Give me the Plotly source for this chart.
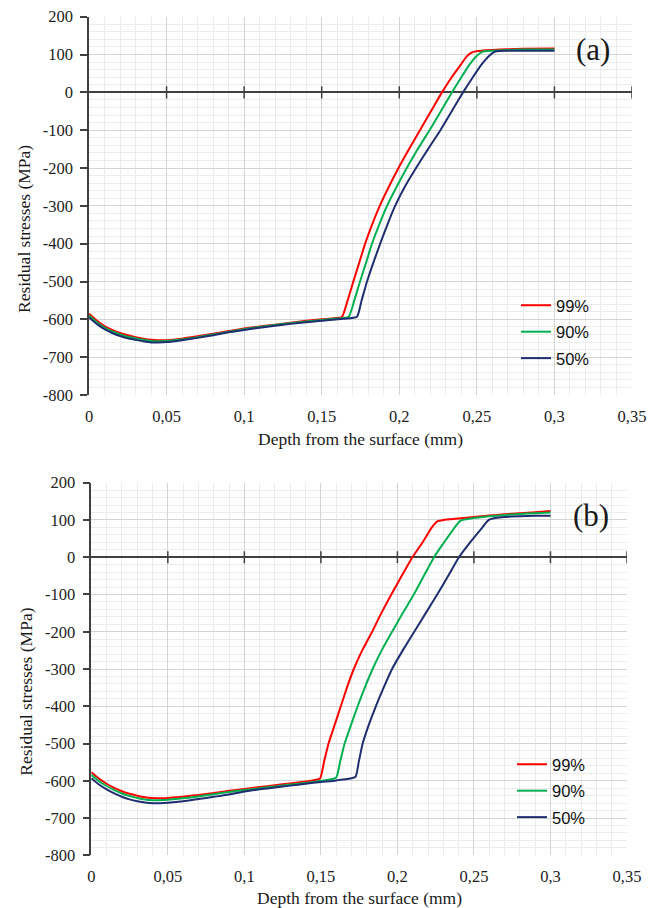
import plotly.graph_objects as go

# ---- residual stress profiles vs depth, panel (a) ----
depth_a_99 = [0, 0.005, 0.01, 0.015, 0.02, 0.025, 0.03, 0.035, 0.04, 0.045, 0.05, 0.06, 0.07, 0.08,
              0.09, 0.1, 0.11, 0.12, 0.13, 0.14, 0.15, 0.158, 0.163, 0.1667, 0.1704, 0.1742, 0.178,
              0.1824, 0.1874, 0.1932, 0.1995, 0.2063, 0.2133, 0.2204, 0.2275, 0.2338, 0.2394,
              0.2435, 0.2465, 0.25, 0.26, 0.27, 0.28, 0.3]
stress_a_99 = [-585, -603, -618, -628, -636, -642, -647, -651, -654, -655, -655, -651, -645, -638,
               -631, -624, -619, -614, -609, -604, -600, -597, -594, -550, -500, -450, -400,
               -350, -300, -250, -200, -150, -100, -50, 0, 40, 72,
               95, 105, 109, 112, 114, 115, 116]

depth_a_90 = [0, 0.005, 0.01, 0.015, 0.02, 0.025, 0.03, 0.035, 0.04, 0.045, 0.05, 0.06, 0.07, 0.08,
              0.09, 0.1, 0.11, 0.12, 0.13, 0.14, 0.15, 0.16, 0.1673, 0.171, 0.1747, 0.1786, 0.1824,
              0.187, 0.1921, 0.1982, 0.2048, 0.2119, 0.2195, 0.2268, 0.234, 0.24, 0.245,
              0.2495, 0.2534, 0.26, 0.27, 0.28, 0.3]
stress_a_90 = [-590, -608, -622, -632, -640, -646, -650, -654, -657, -658, -657, -653, -647, -640,
               -633, -626, -620, -615, -610, -606, -602, -598, -594, -550, -500, -450, -400,
               -350, -300, -250, -200, -150, -100, -50, 0, 40, 72,
               95, 107, 110, 112, 113, 113]

depth_a_50 = [0, 0.005, 0.01, 0.015, 0.02, 0.025, 0.03, 0.035, 0.04, 0.045, 0.05, 0.06, 0.07, 0.08,
              0.09, 0.1, 0.11, 0.12, 0.13, 0.14, 0.15, 0.16, 0.1727, 0.1757, 0.1792, 0.1833, 0.1877,
              0.1923, 0.1973, 0.2035, 0.2108, 0.2185, 0.2265, 0.2338, 0.2411, 0.2474, 0.2527,
              0.2575, 0.262, 0.27, 0.3]
stress_a_50 = [-595, -612, -626, -636, -644, -650, -654, -658, -661, -661, -660, -655, -649, -642,
               -634, -628, -622, -617, -612, -608, -604, -600, -593, -550, -500, -450, -400,
               -350, -300, -250, -200, -150, -100, -50, 0, 40, 72,
               95, 108, 110, 110]

# ---- panel (b) ----
depth_b_99 = [0, 0.005, 0.01, 0.015, 0.02, 0.025, 0.03, 0.035, 0.04, 0.045, 0.05, 0.06, 0.07, 0.08,
              0.09, 0.1, 0.11, 0.12, 0.13, 0.14, 0.1494, 0.152, 0.155, 0.159, 0.163, 0.167, 0.1715,
              0.177, 0.1835, 0.1895, 0.196, 0.2028, 0.2098, 0.2165, 0.2225, 0.2261,
              0.23, 0.24, 0.25, 0.26, 0.27, 0.28, 0.29, 0.3]
stress_b_99 = [-577, -594, -608, -619, -628, -635, -640, -644, -646, -647, -646, -643, -638, -633,
               -627, -622, -617, -612, -607, -602, -594, -550, -500, -450, -400, -350, -300,
               -250, -200, -150, -100, -50, 0, 40, 80, 96,
               100, 104, 108, 112, 115, 118, 121, 124]

depth_b_90 = [0, 0.005, 0.01, 0.015, 0.02, 0.025, 0.03, 0.035, 0.04, 0.045, 0.05, 0.06, 0.07, 0.08,
              0.09, 0.1, 0.11, 0.12, 0.13, 0.14, 0.15, 0.1599, 0.1625, 0.1655, 0.1697, 0.174, 0.1787,
              0.1838, 0.1897, 0.1965, 0.2035, 0.2107, 0.2173, 0.2239, 0.2305, 0.2365, 0.2413,
              0.25, 0.26, 0.27, 0.28, 0.29, 0.3]
stress_b_90 = [-584, -601, -614, -625, -634, -641, -646, -650, -652, -652, -651, -647, -642, -636,
               -630, -625, -620, -615, -610, -606, -600, -592, -550, -500, -450, -400, -350,
               -300, -250, -200, -150, -100, -50, 0, 40, 75, 98,
               105, 110, 113, 116, 118, 120]

depth_b_50 = [0, 0.005, 0.01, 0.015, 0.02, 0.025, 0.03, 0.035, 0.04, 0.045, 0.05, 0.06, 0.07, 0.08,
              0.09, 0.1, 0.11, 0.12, 0.13, 0.14, 0.15, 0.16, 0.1725, 0.1747, 0.1773, 0.1813, 0.1859,
              0.191, 0.1965, 0.2035, 0.211, 0.2185, 0.226, 0.2332, 0.2402, 0.2475, 0.2545, 0.2597,
              0.265, 0.27, 0.28, 0.29, 0.3]
stress_b_50 = [-593, -610, -623, -634, -643, -650, -655, -658, -660, -660, -659, -655, -649, -643,
               -637, -629, -623, -618, -613, -608, -603, -599, -590, -550, -500, -450, -400,
               -350, -300, -250, -200, -150, -100, -50, 0, 40, 75, 100,
               106, 108, 110, 111, 111]

series_names = ["99%", "90%", "50%"]
series_colors = ["#ff0000", "#00b050", "#1f2e6e"]

# ---- axis ticks ----
x_tick_vals = [0, 0.05, 0.1, 0.15, 0.2, 0.25, 0.3, 0.35]
x_tick_text = ["0", "0,05", "0,1", "0,15", "0,2", "0,25", "0,3", "0,35"]
y_tick_vals = [-800, -700, -600, -500, -400, -300, -200, -100, 0, 100, 200]
y_tick_text = ["-800", "-700", "-600", "-500", "-400", "-300", "-200", "-100", "0", "100", "200"]

panel_labels = ["(a)", "(b)"]
x_title = "Depth from the surface (mm)"
y_title = "Residual stresses (MPa)"

W, H = 660, 908
SERIF = "Liberation Serif"
SANS = "Liberation Sans"
AXIS_COLOR = "#404040"

fig = go.Figure()

panels = [
    ((depth_a_99, depth_a_90, depth_a_50), (stress_a_99, stress_a_90, stress_a_50), "x", "y", "legend", "a"),
    ((depth_b_99, depth_b_90, depth_b_50), (stress_b_99, stress_b_90, stress_b_50), "x2", "y2", "legend2", "b"),
]
for xs_set, ys_set, xa, ya, lg, tag in panels:
    for xs, ys, name, col in zip(xs_set, ys_set, series_names, series_colors):
        fig.add_trace(go.Scatter(
            x=xs, y=ys, name=name, mode="lines",
            line=dict(color=col, width=2, shape="spline", smoothing=0.5),
            xaxis=xa, yaxis=ya, legend=lg, legendgroup=tag + name,
        ))


def px_x(p):
    return p / W


def px_y(p):
    return 1 - p / H


def xaxis_style(domain, anchor):
    return dict(
        domain=domain, anchor=anchor, range=[0, 0.35], automargin=False,
        tickmode="array", tickvals=x_tick_vals, ticktext=x_tick_text,
        showline=False, zeroline=False, ticks="",
        showgrid=True, gridcolor="#d4d4d4", gridwidth=1.3,
        minor=dict(dtick=0.01, showgrid=True, gridcolor="#ececec", gridwidth=1),
        tickfont=dict(family=SERIF, size=16.5, color="#222"),
        ticklabelstandoff=9,
    )


def yaxis_style(domain, anchor):
    return dict(
        domain=domain, anchor=anchor, range=[-800, 200], automargin=False,
        tickmode="array", tickvals=y_tick_vals, ticktext=y_tick_text,
        showline=True, linecolor=AXIS_COLOR, linewidth=1.5,
        ticks="outside", ticklen=7, tickcolor=AXIS_COLOR, tickwidth=1.5,
        zeroline=True, zerolinecolor=AXIS_COLOR, zerolinewidth=1.5,
        showgrid=True, gridcolor="#d4d4d4", gridwidth=1.3,
        minor=dict(dtick=20, showgrid=True, gridcolor="#ececec", gridwidth=1),
        tickfont=dict(family=SERIF, size=16.5, color="#222"),
        ticklabelstandoff=4,
    )


legend_font = dict(family=SANS, size=16.5, color="#111")
fig.update_layout(
    width=W, height=H,
    margin=dict(l=0, r=0, t=0, b=0),
    paper_bgcolor="white", plot_bgcolor="white",
    xaxis=xaxis_style([px_x(89), px_x(632)], "y"),
    yaxis=yaxis_style([px_y(395), px_y(16.7)], "x"),
    xaxis2=xaxis_style([px_x(91.3), px_x(627)], "y2"),
    yaxis2=yaxis_style([px_y(855.3), px_y(482.7)], "x2"),
    legend=dict(x=px_x(516), y=px_y(288), xanchor="left", yanchor="top",
                bgcolor="rgba(0,0,0,0)", font=legend_font, tracegroupgap=2),
    legend2=dict(x=px_x(512), y=px_y(747), xanchor="left", yanchor="top",
                 bgcolor="rgba(0,0,0,0)", font=legend_font, tracegroupgap=2),
    showlegend=True,
)

# cross-style tick marks along the zero line
shapes = []
for xa, ya in (("x", "y"), ("x2", "y2")):
    for xv in x_tick_vals[1:]:
        shapes.append(dict(type="line", xref=xa, yref=ya, x0=xv, x1=xv, y0=-16, y1=16,
                           line=dict(color=AXIS_COLOR, width=1.5), layer="above"))
fig.update_layout(shapes=shapes)


def label(text, xp, yp, size, angle=0):
    return dict(text=text, x=px_x(xp), y=px_y(yp), xref="paper", yref="paper",
                xanchor="center", yanchor="middle", textangle=angle, showarrow=False,
                font=dict(family=SERIF, size=size, color="#1a1a1a"))


annotations = [
    label(panel_labels[0], 593, 49, 31),
    label(panel_labels[1], 591, 515, 31),
    label(x_title, 360, 439, 17.5),
    label(x_title, 359, 898, 17.5),
    label(y_title, 24, 229, 17.5, -90),
    label(y_title, 25.7, 692, 17.5, -90),
]
fig.update_layout(annotations=annotations)

fig.write_html("out.html")
